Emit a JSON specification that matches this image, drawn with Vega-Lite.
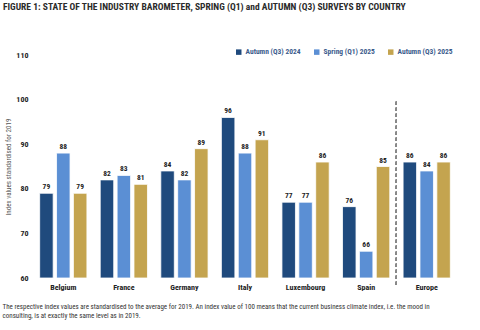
{
  "$schema": "https://vega.github.io/schema/vega-lite/v6.json",
  "autosize": "none",
  "width": 424,
  "height": 223,
  "padding": {"left": 33, "top": 55, "right": 23, "bottom": 52},
  "background": "white",
  "config": {
    "font": "Roboto Condensed, DejaVu Sans Condensed, Liberation Sans Narrow, Roboto",
    "view": {"stroke": null}
  },
  "title": {
    "text": "FIGURE 1: STATE OF THE INDUSTRY BAROMETER, SPRING (Q1) and AUTUMN (Q3) SURVEYS BY COUNTRY",
    "anchor": "start",
    "frame": "group",
    "dx": -30,
    "offset": 37,
    "fontSize": 9.5,
    "fontWeight": "bold",
    "color": "#2b2b2b"
  },
  "data": {
    "values": [
      {"country": "Belgium", "series": "Autumn (Q3) 2024", "value": 79},
      {"country": "Belgium", "series": "Spring (Q1) 2025", "value": 88},
      {"country": "Belgium", "series": "Autumn (Q3) 2025", "value": 79},
      {"country": "France", "series": "Autumn (Q3) 2024", "value": 82},
      {"country": "France", "series": "Spring (Q1) 2025", "value": 83},
      {"country": "France", "series": "Autumn (Q3) 2025", "value": 81},
      {"country": "Germany", "series": "Autumn (Q3) 2024", "value": 84},
      {"country": "Germany", "series": "Spring (Q1) 2025", "value": 82},
      {"country": "Germany", "series": "Autumn (Q3) 2025", "value": 89},
      {"country": "Italy", "series": "Autumn (Q3) 2024", "value": 96},
      {"country": "Italy", "series": "Spring (Q1) 2025", "value": 88},
      {"country": "Italy", "series": "Autumn (Q3) 2025", "value": 91},
      {"country": "Luxembourg", "series": "Autumn (Q3) 2024", "value": 77},
      {"country": "Luxembourg", "series": "Spring (Q1) 2025", "value": 77},
      {"country": "Luxembourg", "series": "Autumn (Q3) 2025", "value": 86},
      {"country": "Spain", "series": "Autumn (Q3) 2024", "value": 76},
      {"country": "Spain", "series": "Spring (Q1) 2025", "value": 66},
      {"country": "Spain", "series": "Autumn (Q3) 2025", "value": 85},
      {"country": "Europe", "series": "Autumn (Q3) 2024", "value": 86},
      {"country": "Europe", "series": "Spring (Q1) 2025", "value": 84},
      {"country": "Europe", "series": "Autumn (Q3) 2025", "value": 86}
    ]
  },
  "encoding": {
    "x": {
      "field": "country",
      "type": "nominal",
      "sort": ["Belgium", "France", "Germany", "Italy", "Luxembourg", "Spain", "Europe"],
      "scale": {"paddingInner": 0.22, "paddingOuter": 0.11},
      "axis": {
        "orient": "bottom",
        "title": ["The respective index values are standardised to the average for 2019. An index value of 100 means that the current business climate index, i.e. the mood in", "consulting, is at exactly the same level as in 2019."],
        "titleAnchor": "start",
        "titleAlign": "left",
        "titleBaseline": "top",
        "titleX": -31,
        "titleY": 24,
        "titleFontSize": 7,
        "titleFontWeight": "normal",
        "titleColor": "#333333",
        "titleLineHeight": 9,
        "labelAngle": 0,
        "labelFontSize": 8,
        "labelFontWeight": "bold",
        "labelColor": "#222222",
        "labelPadding": 5,
        "domain": false,
        "ticks": false
      }
    }
  },
  "layer": [
    {
      "mark": {"type": "bar", "stroke": "white", "strokeWidth": 0.8, "clip": false},
      "encoding": {
        "xOffset": {
          "field": "series",
          "type": "nominal",
          "sort": ["Autumn (Q3) 2024", "Spring (Q1) 2025", "Autumn (Q3) 2025"],
          "scale": {"paddingInner": 0.2}
        },
        "y": {
          "field": "value",
          "type": "quantitative",
          "scale": {"domain": [60, 110], "zero": false, "nice": false},
          "axis": {
            "values": [60, 70, 80, 90, 100, 110],
            "grid": false,
            "domain": false,
            "ticks": false,
            "labelFontSize": 8,
            "labelFontWeight": "bold",
            "labelColor": "#222222",
            "labelPadding": 5,
            "title": "Index values standardised for 2019",
            "titleFontSize": 7,
            "titleFontWeight": "normal",
            "titleColor": "#555555",
            "titlePadding": 4
          }
        },
        "y2": {"datum": 60},
        "color": {
          "field": "series",
          "type": "nominal",
          "sort": ["Autumn (Q3) 2024", "Spring (Q1) 2025", "Autumn (Q3) 2025"],
          "scale": {"range": ["#1F4A7D", "#5B8FD4", "#C4A44F"]},
          "legend": {
            "title": null,
            "orient": "none",
            "legendX": 202,
            "legendY": -7,
            "direction": "horizontal",
            "symbolType": "square",
            "symbolSize": 30,
            "symbolStrokeWidth": 0,
            "labelFontSize": 7.5,
            "labelColor": "#3B5B8C",
            "labelFontWeight": "bold",
            "columnPadding": 12,
            "labelOffset": 3
          }
        }
      }
    },
    {
      "mark": {"type": "text", "dy": -6, "fontSize": 7.5, "fontWeight": "bold", "color": "#222222"},
      "encoding": {
        "xOffset": {
          "field": "series",
          "type": "nominal",
          "sort": ["Autumn (Q3) 2024", "Spring (Q1) 2025", "Autumn (Q3) 2025"],
          "scale": {"paddingInner": 0.2}
        },
        "y": {"field": "value", "type": "quantitative"},
        "text": {"field": "value", "type": "quantitative"}
      }
    },
    {
      "mark": {"type": "rule", "strokeDash": [3, 3], "color": "#888888", "strokeWidth": 1, "clip": false},
      "encoding": {
        "x": {"datum": "Europe", "bandPosition": -0.145},
        "y": {"datum": 99.5},
        "y2": {"datum": 58.3}
      }
    }
  ]
}
